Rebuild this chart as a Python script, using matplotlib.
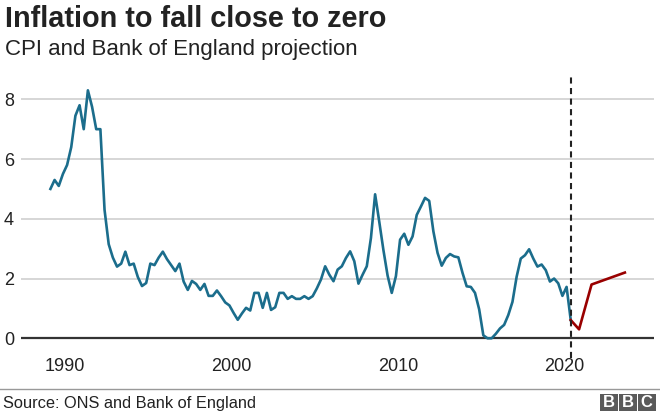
import matplotlib
matplotlib.use("Agg")
import matplotlib.pyplot as plt
from matplotlib.patches import Rectangle
import numpy as np

plt.rcParams['font.family'] = ['Liberation Sans', 'DejaVu Sans']
plt.rcParams['lines.scale_dashes'] = False

# ---- data -------------------------------------------------------------
start_year = 1989  # first quarter of the CPI series (1989 Q1)
cpi_quarterly = [
    5.0, 5.3, 5.1, 5.5,      # 1989
    5.8, 6.4, 7.45, 7.8,     # 1990
    7.0, 8.3, 7.75, 7.0,     # 1991
    7.0, 4.3, 3.15, 2.7,     # 1992
    2.4, 2.5, 2.9, 2.45,     # 1993
    2.5, 2.05, 1.75, 1.85,   # 1994
    2.5, 2.45, 2.7, 2.9,     # 1995
    2.65, 2.45, 2.25, 2.5,   # 1996
    1.9, 1.62, 1.92, 1.82,   # 1997
    1.62, 1.82, 1.42, 1.42,  # 1998
    1.6, 1.41, 1.2, 1.1,     # 1999
    0.85, 0.62, 0.83, 1.02,  # 2000
    0.93, 1.52, 1.52, 1.02,  # 2001
    1.52, 0.95, 1.04, 1.52,  # 2002
    1.52, 1.32, 1.41, 1.32,  # 2003
    1.32, 1.41, 1.32, 1.41,  # 2004
    1.67, 1.97, 2.41, 2.13,  # 2005
    1.91, 2.3, 2.41, 2.69,   # 2006
    2.91, 2.58, 1.83, 2.13,  # 2007
    2.41, 3.36, 4.82, 3.9,   # 2008
    2.95, 2.1, 1.52, 2.08,   # 2009
    3.3, 3.5, 3.13, 3.41,    # 2010
    4.13, 4.41, 4.7, 4.6,    # 2011
    3.58, 2.86, 2.43, 2.69,  # 2012
    2.82, 2.74, 2.71, 2.19,  # 2013
    1.74, 1.72, 1.52, 0.97,  # 2014
    0.1, 0.0, 0.0, 0.15,     # 2015
    0.33, 0.45, 0.78, 1.22,  # 2016
    2.06, 2.67, 2.78, 2.98,  # 2017
    2.67, 2.4, 2.47, 2.28,   # 2018
    1.9, 2.0, 1.84, 1.42,    # 2019
    1.72, 0.61,              # 2020
]
projection_years = [2020.375, 2020.875, 2021.625, 2023.625]
projection_values = [0.61, 0.3, 1.8, 2.2]
projection_start = 2020.4

x_ticks = [1990, 2000, 2010, 2020]
x_tick_labels = ["1990", "2000", "2010", "2020"]
y_ticks = [0, 2, 4, 6, 8]
y_tick_labels = ["0", "2", "4", "6", "8"]

title = "Inflation to fall close to zero"
subtitle = "CPI and Bank of England projection"
source = "Source: ONS and Bank of England"

# ---- figure -----------------------------------------------------------
W, H = 660, 412
fig = plt.figure(figsize=(W / 100, H / 100), dpi=100)

ax_left, ax_right = 21, 654
ax_top, ax_bottom = 77, 357.7
ax = fig.add_axes([ax_left / W, 1 - ax_bottom / H,
                   (ax_right - ax_left) / W, (ax_bottom - ax_top) / H])

ppu = (338.3 - 99.3) / 8.0
ytop = (338.3 - ax_top) / ppu
ymin = -(ax_bottom - 338.3) / ppu
ax.set_ylim(ymin, ytop)
px_per_year = 16.65
ax.set_xlim(1990 + (ax_left - 65) / px_per_year, 1990 + (ax_right - 65) / px_per_year)

cpi_years = start_year + 0.125 + 0.25 * np.arange(len(cpi_quarterly))

for s in ax.spines.values():
    s.set_visible(False)

ax.set_yticks(y_ticks)
ax.set_yticklabels(y_tick_labels)
ax.set_xticks(x_ticks)
ax.set_xticklabels(x_tick_labels)
ax.tick_params(axis='both', length=0, labelsize=13, colors='#222222')
ax.tick_params(axis='y', pad=5)
ax.tick_params(axis='x', pad=0)
for lab in ax.get_yticklabels():
    lab.set_horizontalalignment('right')

for yv in y_ticks[1:]:
    ax.axhline(yv, color='#cccccc', lw=1.1, zorder=1)
ax.axhline(0, color='#333333', lw=1.6, zorder=3)

ax.plot(cpi_years, cpi_quarterly, color='#1b6d8c', lw=1.9, zorder=4,
        solid_joinstyle='round')
ax.plot(projection_years, projection_values, color='#990000', lw=1.9, zorder=4,
        solid_joinstyle='round')
ax.axvline(projection_start, color='#222222', lw=1.5, dashes=(4.4, 3.2), zorder=5)

# ---- texts ------------------------------------------------------------
fig.text(5 / W, 1 - 27.3 / H, title, fontsize=20.8, fontweight='bold',
         color='#222222', va='baseline', ha='left')
fig.text(5 / W, 1 - 55.5 / H, subtitle, fontsize=16, color='#222222',
         va='baseline', ha='left')

fig.add_artist(plt.Line2D([0, 1], [1 - 388.5 / H, 1 - 388.5 / H],
                          transform=fig.transFigure, color='#999999', lw=1))
fig.text(3 / W, 1 - 408 / H, source, fontsize=11.8, color='#222222',
         va='baseline', ha='left')

# BBC blocks
for i, letter in enumerate("BBC"):
    x0 = 600 + i * 19
    fig.add_artist(Rectangle((x0 / W, 1 - 411 / H), 17.5 / W, 17.5 / H,
                             transform=fig.transFigure, color='#5a5a5a', lw=0))
    fig.text((x0 + 8.75) / W, 1 - 402.2 / H, letter, fontsize=12, fontweight='bold',
             color='white', ha='center', va='center')

fig.savefig("out.png", dpi=100)
